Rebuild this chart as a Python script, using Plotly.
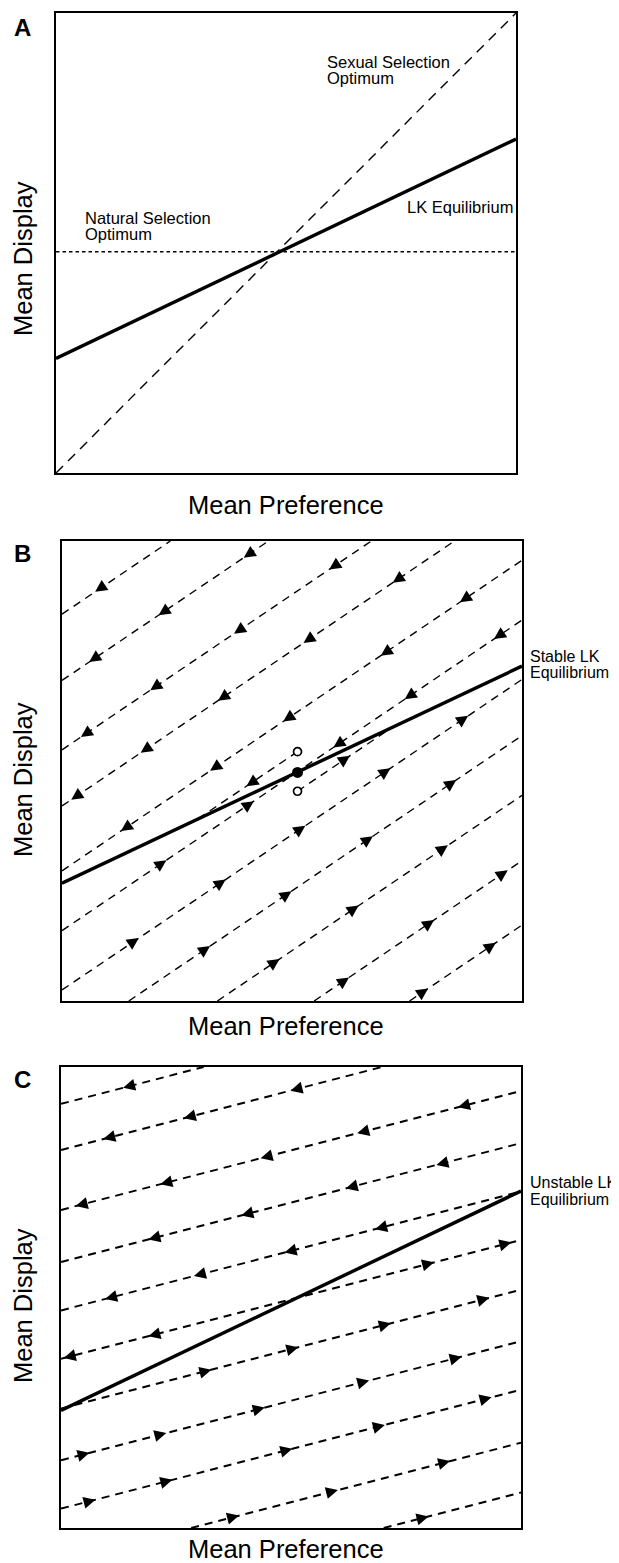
import math
import plotly.graph_objects as go

W, H = 619, 1563          # browser window
OFF = 8                   # default page body margin
FW, FH = W - OFF, H - OFF # figure size so that it ends at the window edge
FONT = "Liberation Sans, Arial, Helvetica, sans-serif"

# ---------------- Panel A data (normalized axes 0..1) ----------------
a_sexual_u = [0.0, 1.0]
a_sexual_v = [0.0, 1.0]
a_natural_v = 0.481
a_lk_u = [0.0, 1.0]
a_lk_v = [0.249, 0.726]

# ---------------- Panel B data ----------------
b_lk_u = [0.0, 1.0]
b_lk_v = [0.256, 0.728]
b_flow_slope = 0.675
b_intercepts = [0.841, 0.697, 0.546, 0.424, 0.283, 0.153, 0.024, -0.098, -0.228, -0.370, -0.510]
b_arrows_down = [[0.072], [0.059, 0.210, 0.395], [0.041, 0.192, 0.374, 0.581],
                 [0.020, 0.171, 0.339, 0.525, 0.719], [0.128, 0.322, 0.481, 0.693, 0.865],
                 [0.590, 0.745, 0.939], [], [], [], [], []]
b_arrows_up = [[], [], [], [], [], [0.227, 0.417], [0.167, 0.356, 0.529, 0.714, 0.883],
               [0.322, 0.499, 0.676, 0.857], [0.473, 0.645, 0.839], [0.624, 0.809, 0.969],
               [0.796, 0.943]]
b_eq_u = 0.512
b_eq_v = 0.497
b_perturbed_v = [0.542, 0.456]
b_perturbed_arrow_u = [0.401, 0.626]

# ---------------- Panel C data ----------------
c_lk_u = [0.0, 1.0]
c_lk_v = [0.255, 0.731]
c_flow_slope = 0.258
c_intercepts = [0.920, 0.820, 0.690, 0.577, 0.472, 0.367, 0.259, 0.147, 0.042, -0.073, -0.181]
c_arrows_down = [[0.135], [0.092, 0.267, 0.499], [0.032, 0.216, 0.434, 0.644, 0.863],
                 [0.190, 0.392, 0.619, 0.816], [0.096, 0.289, 0.486, 0.683], [0.006, 0.190],
                 [], [], [], [], []]
c_arrows_up = [[], [], [], [], [], [0.811, 0.979], [0.327, 0.516, 0.717, 0.931],
               [0.062, 0.229, 0.443, 0.670, 0.871], [0.075, 0.242, 0.503, 0.704, 0.936],
               [0.387, 0.602, 0.846], [0.799]]

# ---------------- layout geometry (window pixels) ----------------
panels = {
    "A": dict(x0=56, x1=516, y0=13, y1=473),
    "B": dict(x0=62, x1=522, y0=541, y1=1001),
    "C": dict(x0=61, x1=521, y0=1067, y1=1528),
}


def px(x):
    return (x - OFF) / FW


def py(y):
    return 1 - (y - OFF) / FH


def dom(p):
    return ([px(p["x0"]), px(p["x1"])], [py(p["y1"]), py(p["y0"])])


def seg(a, s, u0=0.0, u1=1.0):
    lo = max(u0, (0.0 - a) / s, 0.0)
    hi = min(u1, (1.0 - a) / s, 1.0)
    return [lo, hi], [a + s * lo, a + s * hi]


def px_angle(s, p):
    slope_px = s * (p["y1"] - p["y0"]) / (p["x1"] - p["x0"])
    return math.degrees(math.atan(slope_px))


ARROW_SIZE = 12
fig = go.Figure()

# ---------- Panel A ----------
fig.add_trace(go.Scatter(x=a_sexual_u, y=a_sexual_v, mode="lines", xaxis="x", yaxis="y",
                         line=dict(color="black", width=1.4, dash="10px,7px"), hoverinfo="skip"))
fig.add_trace(go.Scatter(x=[0, 1], y=[a_natural_v, a_natural_v], mode="lines", xaxis="x", yaxis="y",
                         line=dict(color="black", width=1.3, dash="3.5px,3px"), hoverinfo="skip"))
fig.add_trace(go.Scatter(x=a_lk_u, y=a_lk_v, mode="lines", xaxis="x", yaxis="y",
                         line=dict(color="black", width=3.4), hoverinfo="skip"))


def flow_panel(xa, ya, p, intercepts, slope, downs, ups, width):
    ang = px_angle(slope, p)
    for a in intercepts:
        us, vs = seg(a, slope)
        fig.add_trace(go.Scatter(x=us, y=vs, mode="lines", xaxis=xa, yaxis=ya,
                                 line=dict(color="black", width=width, dash="8px,6px"),
                                 hoverinfo="skip"))
    mx, my, ma = [], [], []
    for a, dn, up in zip(intercepts, downs, ups):
        for u in dn:
            mx.append(u); my.append(a + slope * u); ma.append(270 - ang)
        for u in up:
            mx.append(u); my.append(a + slope * u); ma.append(90 - ang)
    return mx, my, ma


# ---------- Panel B ----------
pB = panels["B"]
bx, by, ba = flow_panel("x2", "y2", pB, b_intercepts, b_flow_slope, b_arrows_down, b_arrows_up, 1.4)
b_lk_slope = b_lk_v[1] - b_lk_v[0]
angB = px_angle(b_flow_slope, pB)
for pv, au, direction in zip(b_perturbed_v, b_perturbed_arrow_u, ["down", "up"]):
    a_c = pv - b_flow_slope * b_eq_u
    u_int = (a_c - b_lk_v[0]) / (b_lk_slope - b_flow_slope)
    us = [b_eq_u, u_int]
    fig.add_trace(go.Scatter(x=us, y=[a_c + b_flow_slope * u for u in us], mode="lines",
                             xaxis="x2", yaxis="y2",
                             line=dict(color="black", width=1.4, dash="8px,6px"), hoverinfo="skip"))
    bx.append(au); by.append(a_c + b_flow_slope * au)
    ba.append(270 - angB if direction == "down" else 90 - angB)
fig.add_trace(go.Scatter(x=b_lk_u, y=b_lk_v, mode="lines", xaxis="x2", yaxis="y2",
                         line=dict(color="black", width=3.4), hoverinfo="skip"))
fig.add_trace(go.Scatter(x=bx, y=by, mode="markers", xaxis="x2", yaxis="y2", cliponaxis=False,
                         marker=dict(symbol="arrow-up", size=ARROW_SIZE, angle=ba, color="black",
                                     line=dict(width=0)), hoverinfo="skip"))
fig.add_trace(go.Scatter(x=[b_eq_u, b_eq_u], y=b_perturbed_v, mode="markers", xaxis="x2", yaxis="y2",
                         marker=dict(symbol="circle", size=8, color="white",
                                     line=dict(color="black", width=1.7)), hoverinfo="skip"))
fig.add_trace(go.Scatter(x=[b_eq_u], y=[b_eq_v], mode="markers", xaxis="x2", yaxis="y2",
                         marker=dict(symbol="circle", size=11, color="black",
                                     line=dict(width=0)), hoverinfo="skip"))

# ---------- Panel C ----------
pC = panels["C"]
cx, cy, ca = flow_panel("x3", "y3", pC, c_intercepts, c_flow_slope, c_arrows_down, c_arrows_up, 2.0)
fig.add_trace(go.Scatter(x=c_lk_u, y=c_lk_v, mode="lines", xaxis="x3", yaxis="y3",
                         line=dict(color="black", width=3.4), hoverinfo="skip"))
fig.add_trace(go.Scatter(x=cx, y=cy, mode="markers", xaxis="x3", yaxis="y3", cliponaxis=False,
                         marker=dict(symbol="arrow-up", size=ARROW_SIZE, angle=ca, color="black",
                                     line=dict(width=0)), hoverinfo="skip"))

# ---------- axes ----------
axis_style = dict(range=[0, 1], showline=True, mirror=True, linecolor="black", linewidth=1.8,
                  showticklabels=False, ticks="", showgrid=False, zeroline=False, fixedrange=True)
layout_axes = {}
for i, key in enumerate(["A", "B", "C"]):
    xd, yd = dom(panels[key])
    sfx = "" if i == 0 else str(i + 1)
    layout_axes["xaxis" + sfx] = dict(domain=xd, anchor="y" + sfx, **axis_style)
    layout_axes["yaxis" + sfx] = dict(domain=yd, anchor="x" + sfx, **axis_style)

annotations = []


def ann(text, x, y, size, xanchor="left", yanchor="middle", xref="paper", yref="paper",
        bold=False, angle=0):
    annotations.append(dict(text=("<b>%s</b>" % text) if bold else text, x=x, y=y,
                            xref=xref, yref=yref, xanchor=xanchor, yanchor=yanchor,
                            showarrow=False, textangle=angle,
                            font=dict(family=FONT, size=size, color="black")))


# panel letters
for letter, yc in zip(["A", "B", "C"], [27, 553.3, 1079.5]):
    ann(letter, px(22), py(yc), 24, xanchor="center", bold=True)
# axis titles
for yc in [259, 780, 1306]:
    ann("Mean Display", px(23), py(yc), 25.5, xanchor="center", angle=-90)
for yc in [504.7, 1025.7, 1548.5]:
    ann("Mean Preference", px(286), py(yc), 25.5, xanchor="center")

# panel A labels
ann("Sexual Selection", 0.584, 0.894, 16.5, xref="x", yref="y")
ann("Optimum", 0.584, 0.858, 16.5, xref="x", yref="y")
ann("Natural Selection", 0.058, 0.554, 16.5, xref="x", yref="y")
ann("Optimum", 0.058, 0.519, 16.5, xref="x", yref="y")
ann("LK Equilibrium", 0.758, 0.579, 16.5, xref="x", yref="y")
# panel B / C labels
ann("Stable LK", px(528), py(656.2), 16)
ann("Equilibrium", px(528), py(672.8), 16)
ann("Unstable LK", px(527.5), py(1182.7), 16)
ann("Equilibrium", px(527.5), py(1199.3), 16)

fig.update_layout(width=FW, height=FH, margin=dict(l=0, r=0, t=0, b=0),
                  paper_bgcolor="white", plot_bgcolor="white", showlegend=False,
                  annotations=annotations, **layout_axes)

fig.write_html("out.html")
